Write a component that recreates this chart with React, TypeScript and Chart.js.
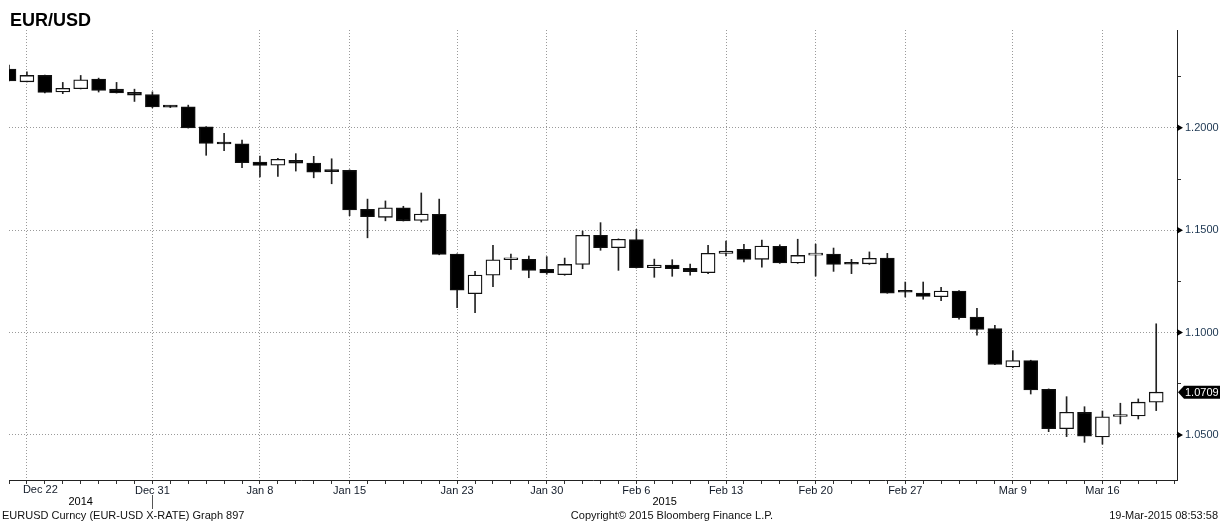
import React, { useEffect, useRef } from "react";
import { Chart, registerables } from "chart.js";

Chart.register(...registerables);

const title = "EUR/USD";

const dates = [
  "Dec 19", "Dec 22", "Dec 23", "Dec 24", "Dec 25", "Dec 26", "Dec 29", "Dec 30", "Dec 31",
  "Jan 1", "Jan 2", "Jan 5", "Jan 6", "Jan 7", "Jan 8", "Jan 9", "Jan 12", "Jan 13", "Jan 14",
  "Jan 15", "Jan 16", "Jan 19", "Jan 20", "Jan 21", "Jan 22", "Jan 23", "Jan 26", "Jan 27",
  "Jan 28", "Jan 29", "Jan 30", "Feb 2", "Feb 3", "Feb 4", "Feb 5", "Feb 6", "Feb 9", "Feb 10",
  "Feb 11", "Feb 12", "Feb 13", "Feb 16", "Feb 17", "Feb 18", "Feb 19", "Feb 20", "Feb 23",
  "Feb 24", "Feb 25", "Feb 26", "Feb 27", "Mar 2", "Mar 3", "Mar 4", "Mar 5", "Mar 6", "Mar 9",
  "Mar 10", "Mar 11", "Mar 12", "Mar 13", "Mar 16", "Mar 17", "Mar 18", "Mar 19",
];

const opens = [
  1.2287, 1.2225, 1.2256, 1.2175, 1.2191, 1.2238, 1.2189, 1.2173, 1.2162,
  1.2105, 1.2103, 1.2005, 1.1925, 1.1922, 1.1833, 1.1818, 1.1841, 1.1828, 1.1790,
  1.1792, 1.1602, 1.1563, 1.1610, 1.1548, 1.1578, 1.1384, 1.1190, 1.1280,
  1.1356, 1.1358, 1.1309, 1.1283, 1.1333, 1.1475, 1.1415, 1.1454, 1.1317, 1.1330,
  1.1314, 1.1293, 1.1387, 1.1407, 1.1358, 1.1421, 1.1340, 1.1378, 1.1384,
  1.1336, 1.1336, 1.1364, 1.1200, 1.1193, 1.1175, 1.1203, 1.1076, 1.1019, 1.0832,
  1.0863, 1.0723, 1.0531, 1.0611, 1.0490, 1.0590, 1.0593, 1.0660,
];

const highs = [
  1.2307, 1.2274, 1.2258, 1.2222, 1.2256, 1.2243, 1.2222, 1.2189, 1.2176,
  1.2108, 1.2111, 1.2006, 1.1973, 1.1940, 1.1862, 1.1851, 1.1874, 1.1861, 1.1849,
  1.1795, 1.1652, 1.1643, 1.1617, 1.1682, 1.1652, 1.1385, 1.1299, 1.1426,
  1.1384, 1.1374, 1.1371, 1.1364, 1.1496, 1.1537, 1.1458, 1.1504, 1.1359, 1.1356,
  1.1335, 1.1426, 1.1447, 1.1431, 1.1452, 1.1429, 1.1456, 1.1432, 1.1413,
  1.1358, 1.1394, 1.1387, 1.1247, 1.1247, 1.1221, 1.1205, 1.1119, 1.1036, 1.0912,
  1.0865, 1.0725, 1.0687, 1.0638, 1.0617, 1.0655, 1.0676, 1.1043,
];

const lows = [
  1.2229, 1.2224, 1.2171, 1.2167, 1.2190, 1.2175, 1.2170, 1.2129, 1.2098,
  1.2099, 1.1999, 1.1866, 1.1888, 1.1805, 1.1760, 1.1763, 1.1789, 1.1756, 1.1727,
  1.1571, 1.1463, 1.1546, 1.1545, 1.1540, 1.1380, 1.1122, 1.1097, 1.1224,
  1.1309, 1.1268, 1.1285, 1.1280, 1.1312, 1.1402, 1.1304, 1.1315, 1.1270, 1.1275,
  1.1281, 1.1288, 1.1374, 1.1345, 1.1320, 1.1338, 1.1338, 1.1276, 1.1299,
  1.1288, 1.1333, 1.1192, 1.1174, 1.1163, 1.1156, 1.1066, 1.0988, 1.0843, 1.0829,
  1.0700, 1.0516, 1.0492, 1.0464, 1.0455, 1.0554, 1.0578, 1.0619,
];

const closes = [
  1.2229, 1.2256, 1.2173, 1.2193, 1.2235, 1.2183, 1.2171, 1.2160, 1.2102,
  1.2101, 1.2000, 1.1924, 1.1921, 1.1830, 1.1817, 1.1846, 1.1827, 1.1784, 1.1786,
  1.1599, 1.1566, 1.1610, 1.1546, 1.1579, 1.1382, 1.1207, 1.1281, 1.1356,
  1.1359, 1.1304, 1.1291, 1.1333, 1.1475, 1.1415, 1.1456, 1.1317, 1.1330, 1.1312,
  1.1297, 1.1387, 1.1398, 1.1358, 1.1423, 1.1340, 1.1377, 1.1383, 1.1333,
  1.1334, 1.1363, 1.1193, 1.1197, 1.1177, 1.1203, 1.1073, 1.1016, 1.0845, 1.0863,
  1.0720, 1.0531, 1.0611, 1.0494, 1.0589, 1.0593, 1.0660, 1.0709,
];

const xTickLabels = [
  "Dec 22", "Dec 31", "Jan 8", "Jan 15", "Jan 23", "Jan 30",
  "Feb 6", "Feb 13", "Feb 20", "Feb 27", "Mar 9", "Mar 16",
];

const yMajorTicks = [1.05, 1.1, 1.15, 1.2];
const yMinorTicks = [1.075, 1.125, 1.175, 1.225];
const yMin = 1.028;
const yMax = 1.2478;

const yearNames = ["2014", "2015"];
const lastDateOfFirstYear = "Dec 31";

const footerLeft = "EURUSD Curncy (EUR-USD X-RATE) Graph 897";
const footerCenter = "Copyright\u00A9 2015 Bloomberg Finance L.P.";
const footerRight = "19-Mar-2015 08:53:58";

const FONT = '"Liberation Sans", Arial, sans-serif';

export default function App() {
  const ref = useRef<HTMLCanvasElement>(null);

  useEffect(() => {
    const canvas = ref.current;
    if (!canvas) return;

    const labelMap = new Map<number, string>();
    xTickLabels.forEach((l) => labelMap.set(dates.indexOf(l), l));
    const firstLabelIdx = dates.indexOf(xTickLabels[0]);
    const isMajor = (v: number) => yMajorTicks.some((m) => Math.abs(m - v) < 1e-9);
    const lastPrice = closes[closes.length - 1];
    const boundaryIdx = dates.indexOf(lastDateOfFirstYear);

    const overlay = {
      id: "overlay",
      afterDraw(chart: any) {
        const { ctx, chartArea, scales } = chart;
        const xs = scales.x;
        const ys = scales.y;
        ctx.save();

        // Title
        ctx.fillStyle = "#000";
        ctx.font = `bold 18px ${FONT}`;
        ctx.textAlign = "left";
        ctx.textBaseline = "alphabetic";
        ctx.fillText(title, 10, 26);

        // First x label, kept clear of the left edge (left-aligned near its tick)
        ctx.fillStyle = "#111a28";
        ctx.font = `11px ${FONT}`;
        ctx.textAlign = "left";
        ctx.textBaseline = "middle";
        ctx.fillText(xTickLabels[0], xs.getPixelForValue(firstLabelIdx) - 4, 490);

        // Major tick triangles on right axis
        ctx.fillStyle = "#000";
        for (const v of yMajorTicks) {
          const py = ys.getPixelForValue(v);
          ctx.beginPath();
          ctx.moveTo(chartArea.right, py - 3.5);
          ctx.lineTo(chartArea.right + 6, py);
          ctx.lineTo(chartArea.right, py + 3.5);
          ctx.closePath();
          ctx.fill();
        }

        // Last price box
        const py = ys.getPixelForValue(lastPrice);
        const bx = chartArea.right + 1;
        ctx.fillStyle = "#000";
        ctx.beginPath();
        ctx.moveTo(bx, py);
        ctx.lineTo(bx + 6, py - 6.5);
        ctx.lineTo(1220, py - 6.5);
        ctx.lineTo(1220, py + 6.5);
        ctx.lineTo(bx + 6, py + 6.5);
        ctx.closePath();
        ctx.fill();
        ctx.fillStyle = "#fff";
        ctx.font = `11px ${FONT}`;
        ctx.textAlign = "left";
        ctx.textBaseline = "middle";
        ctx.fillText(lastPrice.toFixed(4), chartArea.right + 8, py + 0.5);

        // Year labels + separator
        const sepX = xs.getPixelForValue(boundaryIdx);
        ctx.fillStyle = "#000";
        ctx.font = `11px ${FONT}`;
        ctx.textAlign = "center";
        ctx.textBaseline = "middle";
        ctx.fillText(yearNames[0], (chartArea.left + sepX) / 2, 502);
        ctx.fillText(yearNames[1], (sepX + chartArea.right) / 2, 502);
        ctx.strokeStyle = "#555";
        ctx.lineWidth = 1;
        ctx.beginPath();
        ctx.moveTo(Math.round(sepX) + 0.5, 495);
        ctx.lineTo(Math.round(sepX) + 0.5, 509);
        ctx.stroke();

        // Footer
        ctx.fillStyle = "#111";
        ctx.font = `11px ${FONT}`;
        ctx.textBaseline = "alphabetic";
        ctx.textAlign = "left";
        ctx.fillText(footerLeft, 2, 519);
        ctx.textAlign = "center";
        ctx.fillText(footerCenter, 672, 519);
        ctx.textAlign = "right";
        ctx.fillText(footerRight, 1218, 519);

        ctx.restore();
      },
    };

    const chart = new Chart(canvas, {
      type: "bar",
      data: {
        datasets: [
          {
            label: "body",
            data: dates.map((_, i) => ({ x: i, y: [opens[i], closes[i]] })) as any,
            backgroundColor: dates.map((_, i) => (closes[i] < opens[i] ? "#000" : "#fff")),
            borderColor: "#111",
            borderWidth: 1.3,
            borderSkipped: false,
            barThickness: 14,
            minBarLength: 2,
            grouped: false,
            order: 1,
          } as any,
          {
            label: "wick",
            data: dates.map((_, i) => ({ x: i, y: [lows[i], highs[i]] })) as any,
            backgroundColor: "#222",
            borderWidth: 0,
            barThickness: 1,
            grouped: false,
            order: 2,
          } as any,
        ],
      },
      options: {
        animation: false,
        responsive: false,
        layout: { padding: { left: 9, top: 30, right: 0, bottom: 0 } },
        plugins: {
          legend: { display: false },
          tooltip: { enabled: false },
        },
        scales: {
          x: {
            type: "linear",
            min: 0,
            max: 65.16,
            offset: false,
            afterBuildTicks: (scale: any) => {
              scale.ticks = Array.from({ length: 66 }, (_, i) => ({ value: i }));
            },
            afterFit: (scale: any) => {
              scale.height = 42;
            },
            grid: {
              offset: false,
              color: (c: any) => (labelMap.has(c.tick?.value) ? "#9a9a9a" : "transparent"),
              lineWidth: 1,
              tickColor: "#333",
              tickLength: 4,
              drawTicks: true,
            },
            border: { display: true, color: "#222", width: 1, dash: [1, 2] },
            ticks: {
              autoSkip: false,
              maxRotation: 0,
              minRotation: 0,
              padding: 0,
              color: "#111a28",
              font: { family: FONT, size: 11 },
              callback: (v: any) => {
                const i = Math.round(Number(v));
                if (i === firstLabelIdx) return "";
                return labelMap.get(i) ?? "";
              },
            },
          },
          y: {
            type: "linear",
            position: "right",
            min: yMin,
            max: yMax,
            afterBuildTicks: (scale: any) => {
              scale.ticks = [...yMajorTicks, ...yMinorTicks]
                .sort((a, b) => a - b)
                .map((v) => ({ value: v }));
            },
            afterFit: (scale: any) => {
              scale.width = 46;
            },
            grid: {
              color: (c: any) => (c.tick && isMajor(c.tick.value) ? "#9a9a9a" : "transparent"),
              lineWidth: 1,
              tickColor: (c: any) => (c.tick && isMajor(c.tick.value) ? "transparent" : "#333"),
              tickLength: 4,
            },
            border: { display: true, color: "#222", width: 1, dash: [1, 2] },
            ticks: {
              padding: 4,
              color: "#1b3550",
              font: { family: FONT, size: 11 },
              callback: (v: any) => (isMajor(Number(v)) ? Number(v).toFixed(4) : ""),
            },
          },
        },
      },
      plugins: [overlay],
    });

    return () => chart.destroy();
  }, []);

  return (
    <div style={{ position: "absolute", left: 0, top: 0, width: 1223, height: 522, background: "#fff" }}>
      <canvas ref={ref} width={1223} height={522} style={{ display: "block", width: 1223, height: 522 }} />
    </div>
  );
}
